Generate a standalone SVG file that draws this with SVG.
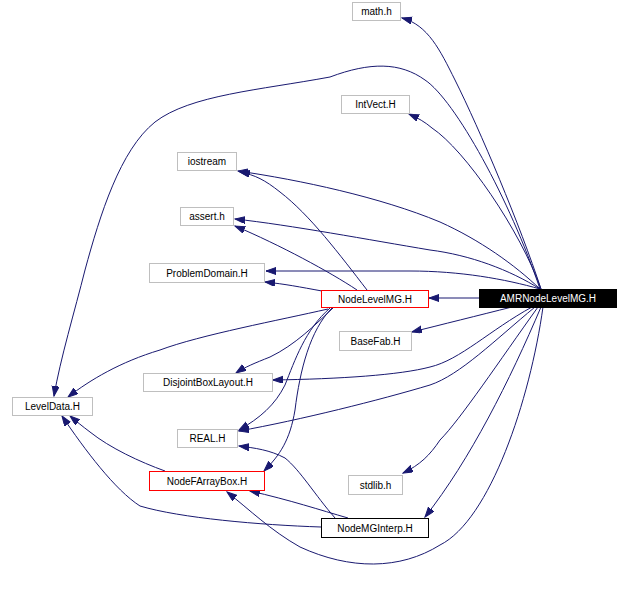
<svg xmlns="http://www.w3.org/2000/svg" width="629" height="600" viewBox="0 0 629 600">
<style>
.n rect{fill:#fff;stroke:#bfbfbf;stroke-width:1}
.n.red rect{stroke:#ff0000}
.n.blk rect{stroke:#000}
.n.root rect{fill:#000;stroke:#000}
text{font-family:"Liberation Sans",Arial,sans-serif;font-size:10px;text-anchor:middle;fill:#000}
.n.root text{fill:#fff}
#edges path{fill:none;stroke:#191970;stroke-width:1;marker-end:url(#ah)}
</style>
<defs>
<marker id="ah" markerUnits="userSpaceOnUse" markerWidth="11" markerHeight="8" refX="10" refY="3.5" orient="auto">
<path d="M0,0 L10,3.5 L0,7 z" fill="#191970" stroke="#191970" stroke-width="1"/>
</marker>
</defs>
<rect width="629" height="600" fill="#fff"/>
<g id="edges">
<path d="M541,289 C 520,225 480,130 455,80 C 440,50 428,25 402,18"/>
<path d="M540,289 C 510,200 455,100 425,80 C 400,62 370,62 330,77 C 260,90 190,95 155,122 C 120,150 100,215 85,270 C 75,310 60,360 54,396"/>
<path d="M541,289 C 520,230 465,150 432,128 C 425,122 418,118 409,114"/>
<path d="M540,289 C 515,265 480,240 440,222 C 380,197 300,180 238,171"/>
<path d="M540,289 C 510,270 470,255 430,250 C 370,240 290,225 235,219"/>
<path d="M540,289 C 505,279 460,271 410,271 L 266,271"/>
<path d="M479,298 L 429,298"/>
<path d="M512,307 C 480,315 440,325 412,332"/>
<path d="M532,307 C 490,330 460,360 430,367 C 400,375 340,379 273,380"/>
<path d="M535,307 C 495,340 460,375 430,385 C 380,400 300,420 239,431"/>
<path d="M538,307 C 500,360 460,420 440,440 C 430,455 420,465 403,473"/>
<path d="M541,307 C 510,380 470,460 425,517"/>
<path d="M543,307 C 530,400 490,520 440,545 C 400,570 350,570 300,547 C 270,530 250,510 227,492"/>
<path d="M367,290 C 340,255 310,215 280,192 C 265,180 255,175 240,172"/>
<path d="M357,290 C 330,272 280,245 235,226"/>
<path d="M322,291 C 300,287 285,284 265,282"/>
<path d="M328,309 C 280,320 200,335 160,350 C 120,362 90,380 68,397"/>
<path d="M333,308 C 315,325 295,345 270,357 C 255,363 245,367 236,373"/>
<path d="M330,308 C 305,330 295,360 285,385 C 275,405 260,418 239,430"/>
<path d="M332,308 C 310,330 300,370 295,410 C 290,440 280,455 264,471"/>
<path d="M335,518 C 315,495 300,470 285,458 C 270,450 255,448 239,446"/>
<path d="M348,518 C 320,510 290,500 250,491"/>
<path d="M321,527 C 260,525 180,518 140,506 C 115,490 85,450 62,416"/>
<path d="M165,471 C 140,462 110,448 90,432 C 82,426 76,421 70,416"/>
</g>
<g id="math_h" class="n"><rect x="352.5" y="2.5" width="48" height="18"/><text x="376.5" y="15">math.h</text></g>
<g id="IntVect_H" class="n"><rect x="341.5" y="95.5" width="68" height="18"/><text x="375.5" y="108">IntVect.H</text></g>
<g id="iostream" class="n"><rect x="177.5" y="152.5" width="59" height="18"/><text x="207" y="165">iostream</text></g>
<g id="assert_h" class="n"><rect x="180.5" y="207.5" width="53" height="18"/><text x="207" y="220">assert.h</text></g>
<g id="ProblemDomain_H" class="n"><rect x="149.5" y="263.5" width="115" height="19"/><text x="207" y="276.5">ProblemDomain.H</text></g>
<g id="NodeLevelMG_H" class="n red"><rect x="321.5" y="290.5" width="107" height="17"/><text x="375" y="302.5">NodeLevelMG.H</text></g>
<g id="AMRNodeLevelMG_H" class="n root"><rect x="479.5" y="289.5" width="137" height="18"/><text x="548" y="302">AMRNodeLevelMG.H</text></g>
<g id="BaseFab_H" class="n"><rect x="339.5" y="331.5" width="72" height="19"/><text x="375.5" y="344.5">BaseFab.H</text></g>
<g id="DisjointBoxLayout_H" class="n"><rect x="143.5" y="373.5" width="129" height="18"/><text x="208" y="386">DisjointBoxLayout.H</text></g>
<g id="LevelData_H" class="n"><rect x="12.5" y="397.5" width="80" height="18"/><text x="52.5" y="410">LevelData.H</text></g>
<g id="REAL_H" class="n"><rect x="177.5" y="429.5" width="60" height="18"/><text x="207.5" y="442">REAL.H</text></g>
<g id="NodeFArrayBox_H" class="n red"><rect x="149.5" y="471.5" width="115" height="19"/><text x="207" y="484.5">NodeFArrayBox.H</text></g>
<g id="stdlib_h" class="n"><rect x="348.5" y="475.5" width="54" height="19"/><text x="375.5" y="488.5">stdlib.h</text></g>
<g id="NodeMGInterp_H" class="n blk"><rect x="321.5" y="518.5" width="107" height="19"/><text x="375" y="531.5">NodeMGInterp.H</text></g>
</svg>
